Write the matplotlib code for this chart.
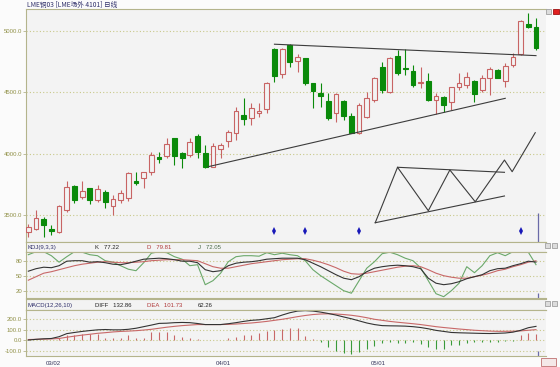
import matplotlib
matplotlib.use('Agg')
import matplotlib.pyplot as plt
from matplotlib.patches import Rectangle

# ---- data ----
opens = [3364, 3386, 3465, 3386, 3364, 3541, 3736, 3644, 3718, 3622,
         3685, 3573, 3622, 3641, 3777, 3799, 3853, 3975, 3981, 4125,
         4003, 3989, 4144, 4003, 3894, 4036, 4103, 4166, 4315, 4288,
         4334, 4364, 4851, 4647, 4886, 4758, 4782, 4579, 4497, 4429,
         4334, 4429, 4310, 4171, 4296, 4437, 4709, 4505, 4796, 4698,
         4676, 4574, 4595, 4437, 4460, 4424, 4546, 4560, 4595, 4519,
         4614, 4682, 4592, 4723, 4813, 5055, 5030]
highs = [3427, 3541, 3486, 3418, 3580, 3777, 3745, 3780, 3723, 3745,
         3704, 3663, 3704, 3850, 3853, 3853, 4016, 4016, 4125, 4125,
         4016, 4125, 4158, 4071, 4084, 4084, 4193, 4383, 4451, 4416,
         4416, 4587, 4859, 4859, 4894, 4813, 4782, 4579, 4579, 4492,
         4492, 4438, 4329, 4416, 4505, 4627, 4750, 4790, 4845, 4851,
         4723, 4709, 4655, 4492, 4470, 4546, 4660, 4668, 4601, 4641,
         4709, 4688, 4737, 4823, 5090, 5144, 5104]
lows = [3323, 3378, 3318, 3337, 3355, 3527, 3600, 3628, 3587, 3608,
        3555, 3500, 3600, 3617, 3745, 3718, 3826, 3921, 3962, 3908,
        3881, 3975, 3962, 3881, 3889, 3962, 4057, 4111, 4234, 4234,
        4296, 4334, 4587, 4619, 4709, 4668, 4560, 4370, 4383, 4274,
        4261, 4274, 4166, 4160, 4288, 4424, 4492, 4492, 4641, 4640,
        4541, 4533, 4432, 4323, 4342, 4356, 4519, 4533, 4424, 4505,
        4478, 4614, 4546, 4704, 4804, 5022, 4845]
closes = [3400, 3473, 3416, 3370, 3573, 3731, 3622, 3698, 3622, 3710,
          3608, 3633, 3677, 3840, 3764, 3853, 3989, 3954, 4079, 3981,
          3962, 4098, 4016, 3894, 4063, 4071, 4179, 4350, 4280, 4375,
          4348, 4574, 4633, 4853, 4745, 4786, 4574, 4511, 4470, 4293,
          4484, 4307, 4171, 4397, 4456, 4619, 4519, 4782, 4660, 4688,
          4560, 4587, 4437, 4470, 4397, 4541, 4574, 4623, 4484, 4619,
          4688, 4614, 4715, 4790, 5084, 5030, 4864]

k_vals = [59, 64, 67, 66, 70, 79, 80, 80, 77, 78, 76, 73, 72, 75, 79,
          83, 84, 85, 84, 82, 79, 79, 76, 62, 58, 60, 70, 75, 77, 78,
          80, 83, 84, 85, 85, 85, 82, 75, 68, 60, 52, 45, 42, 48, 58,
          65, 68, 70, 71, 70, 68, 64, 45, 35, 32, 34, 38, 44, 48, 52,
          60, 64, 65, 70, 74, 79, 77.22]
d_vals = [41, 48, 55, 58, 62, 66, 70, 73, 75, 77, 78, 77, 76, 76, 77,
          78, 80, 81, 82, 82, 82, 81, 80, 74, 68, 65, 65, 68, 71, 74,
          76, 78, 80, 82, 83, 84, 84, 81, 77, 72, 66, 59, 54, 53, 55,
          58, 61, 64, 67, 69, 70, 68, 62, 55, 50, 47, 45, 45, 48, 51,
          55, 60, 63, 68, 72, 77, 79.81]
j_vals = [92, 98, 98, 90, 77, 88, 98, 97, 92, 90, 80, 77, 70, 63, 60,
          76, 95, 98, 96, 88, 83, 70, 72, 32, 40, 55, 78, 88, 90, 90,
          89, 96, 92, 95, 92, 90, 80, 62, 50, 40, 30, 20, 15, 40, 65,
          78, 94, 97, 92, 85, 80, 66, 40, 14, 8, 20, 35, 68, 56, 70,
          90, 96, 90, 98, 97, 97, 72.05]

diff_vals = [3, 10, 15, 18, 35, 64, 75, 85, 93, 100, 103, 100, 100, 105, 115,
             130, 145, 161, 163, 168, 170, 168, 160, 150, 150, 150, 158, 168, 180, 190,
             195, 205, 215, 240, 262, 278, 282, 278, 268, 255, 240, 222, 205, 185, 165,
             150, 140, 138, 137, 135, 130, 122, 110, 95, 85, 75, 72, 70, 68, 66,
             65, 67, 70, 78, 95, 120, 132.86]
dea_vals = [8, 10, 12, 14, 18, 30, 40, 50, 58, 67, 73, 80, 85, 88, 92,
            98, 105, 115, 125, 133, 140, 145, 150, 150, 150, 150, 152, 155, 160, 165,
            172, 180, 190, 200, 212, 225, 236, 245, 250, 252, 250, 245, 238, 228, 215,
            200, 190, 180, 172, 165, 158, 150, 140, 130, 122, 115, 108, 102, 96, 92,
            88, 86, 86, 87, 90, 96, 101.73]
macd_vals = [0, 2, 4, 4, 25, 55, 55, 64, 64, 64, 18, 24, 18, 48, 24,
             18, 79, 79, 79, 50, 35, 18, 10, 0, 0, 0, 18, 35, 50, 55,
             70, 85, 103, 110, 115, 115, 40, 10, -20, -60, -100, -120, -130, -110, -80,
             -50, -27, -15, -22, -27, -15, -35, -58, -79, -79, -40, -45, -27, -15, -20,
             -15, -15, -10, -5, 55, 73, 62.26]

signal_idx = [32, 36, 43, 64]
signal_price = 3370

# hand drawn lines on the chart (candle index, price)
upper_line = [(32, 4892), (66, 4799)]
lower_line = [(23.4, 3894), (62, 4451)]
zigzag = [(45.1, 3437), (48.0, 3889), (52.0, 3535), (54.8, 3867),
          (58.1, 3608), (61.9, 3948), (62.9, 3853), (65.9, 4171)]
zig_top = [(48.0, 3889), (61.9, 3848)]
zig_bottom = [(45.1, 3437), (61.9, 3655)]

date_pos = [3.2, 25.3, 45.5]
date_labels = ['03/02', '04/01', '05/01']

title = 'LME铜03 [LME场外 4101] 日线'

# ---- style ----
plt.rcParams['font.family'] = ['Liberation Sans', 'DejaVu Sans']
BG = '#f3f3f3'
FRAME = '#b4b48c'
GRID = '#c8c88a'
TICK = '#8f8f45'
UP = '#c86464'
DOWN = '#0a8a0a'
FS = 4.3

W, H = 560, 367
fig = plt.figure(figsize=(5.6, 3.67), dpi=100, facecolor='#fbfbfb')


def px_axes(x0, y0, x1, y1):
    ax = fig.add_axes([x0 / W, 1 - y1 / H, (x1 - x0) / W, (y1 - y0) / H])
    ax.set_facecolor(BG)
    ax.spines['right'].set_visible(False)
    for s in ('top', 'left', 'bottom'):
        ax.spines[s].set_color(FRAME)
        ax.spines[s].set_linewidth(0.8)
    ax.set_xlim(-0.3, 67.3)
    ax.tick_params(axis='x', bottom=False, labelbottom=False)
    ax.tick_params(axis='y', length=2, width=0.6, color=FRAME,
                   labelsize=FS, labelcolor=TICK, pad=0.8)
    return ax


def dotted_grid(ax):
    ax.grid(axis='y', color=GRID, linestyle=(0, (1, 2)), linewidth=0.8)
    ax.set_axisbelow(True)


def px_box(x0, y0, x1, y1, face, edge):
    # small window buttons, drawn in pixel coordinates
    fig.add_artist(Rectangle((x0, H - y1), x1 - x0, y1 - y0, transform=None,
                             facecolor=face, edgecolor=edge, linewidth=0.6))


n = len(opens)
idx = list(range(n))

# main candle panel
ax = px_axes(26, 9, 546, 242)
ax.set_ylim(3280, 5179)
ax.set_yticks([3500, 4000, 4500, 5000])
ax.set_yticklabels(['%.1f' % v for v in [3500, 4000, 4500, 5000]])
dotted_grid(ax)
for i in idx:
    o, h, l, c = opens[i], highs[i], lows[i], closes[i]
    col = UP if c >= o else DOWN
    ax.vlines(i, l, h, color=col, linewidth=0.8, zorder=2)
    body = max(abs(c - o), 8)
    ax.bar(i, body, bottom=min(o, c), width=0.62,
           color=BG if c >= o else DOWN, edgecolor=col, linewidth=0.8, zorder=3)

ax.plot(*zip(*upper_line), color='#3c3c3c', linewidth=0.8, zorder=4)
ax.plot(*zip(*lower_line), color='#3c3c3c', linewidth=0.8, zorder=4)
ax.plot(*zip(*zigzag), color='#3c3c3c', linewidth=0.8)
ax.plot(*zip(*zig_top), color='#3c3c3c', linewidth=0.8)
ax.plot(*zip(*zig_bottom), color='#3c3c3c', linewidth=0.8)
ax.plot(signal_idx, [signal_price] * len(signal_idx), 'd', color='#1818b8',
        markersize=4, markeredgewidth=0)
ax.vlines(66.3, 3280, 3520, color='#6a6aa8', linewidth=0.9)
fig.text(27 / W, 1 - 4.5 / H, title, fontsize=4.8, color='#30306a', va='center',
         family=['Noto Sans CJK SC', 'DejaVu Sans'])

# KDJ header + panel
hdr = px_axes(26, 242, 546, 252)
hdr.set_ylim(0, 1)
hdr.set_yticks([])
hdr.text(0.002, 0.45, 'KDJ(9,3,3)', transform=hdr.transAxes, fontsize=FS,
         color='#30306a', va='center')
for xpx, txt, col in [(95, 'K   77.22', '#222222'), (147, 'D   79.81', '#b03a3a'),
                      (198, 'J   72.05', '#4a6a4a')]:
    hdr.text((xpx - 26) / 520, 0.45, txt, transform=hdr.transAxes, fontsize=FS,
             color=col, va='center')

kx = px_axes(26, 252, 546, 298)
kx.set_ylim(5.4, 97.4)
kx.set_yticks([20, 50, 80])
kx.set_yticklabels(['20', '50', '80'])
dotted_grid(kx)
kx.plot(idx, j_vals, color='#6aa86a', linewidth=0.8)
kx.plot(idx, d_vals, color='#c86868', linewidth=0.8)
kx.plot(idx, k_vals, color='#333333', linewidth=0.8)
kx.vlines(66.3, 5.4, 15, color='#6a6aa8', linewidth=0.9)

# MACD header + panel
hdr2 = px_axes(26, 299, 546, 310)
hdr2.set_ylim(0, 1)
hdr2.set_yticks([])
hdr2.text(0.002, 0.45, 'MACD(12,26,10)', transform=hdr2.transAxes, fontsize=FS,
          color='#30306a', va='center')
for xpx, txt, col in [(95, 'DIFF   132.86', '#222222'), (147, 'DEA   101.73', '#b03a3a'),
                      (198, '62.26', '#222222')]:
    hdr2.text((xpx - 26) / 520, 0.45, txt, transform=hdr2.transAxes, fontsize=FS,
              color=col, va='center')

mx = px_axes(26, 310, 546, 356)
mx.set_ylim(-148, 288)
mx.set_yticks([-100, 0, 100, 200])
mx.set_yticklabels(['-100.0', '0.0', '100.0', '200.0'])
dotted_grid(mx)
for i in idx:
    v = macd_vals[i]
    mx.vlines(i, 0, v, color='#c86868' if v >= 0 else '#3a9a3a', linewidth=0.8)
mx.plot(idx, dea_vals, color='#c86868', linewidth=0.8)
mx.plot(idx, diff_vals, color='#333333', linewidth=0.8)
mx.vlines(66.3, -148, -100, color='#6a6aa8', linewidth=0.9)
mx.set_xticks(date_pos)
mx.set_xticklabels(date_labels)
mx.tick_params(axis='x', bottom=False, labelbottom=True, labelsize=4.3,
               labelcolor='#33335a', pad=0.3)

# window buttons at the right edge
px_box(546, 9, 551, 14, '#dcdcdc', '#a0a0a0')
px_box(553, 9, 559, 14, '#e02020', '#a01010')
px_box(545, 243, 550, 248, '#dcdcdc', '#a0a0a0')
px_box(552, 243, 557, 248, '#dcdcdc', '#a0a0a0')
px_box(545, 301, 550, 306, '#dcdcdc', '#a0a0a0')
px_box(552, 301, 557, 306, '#dcdcdc', '#a0a0a0')
px_box(541, 358, 556, 366, '#f4e8e8', '#c07070')

fig.savefig('out.png', dpi=100, facecolor=fig.get_facecolor())
